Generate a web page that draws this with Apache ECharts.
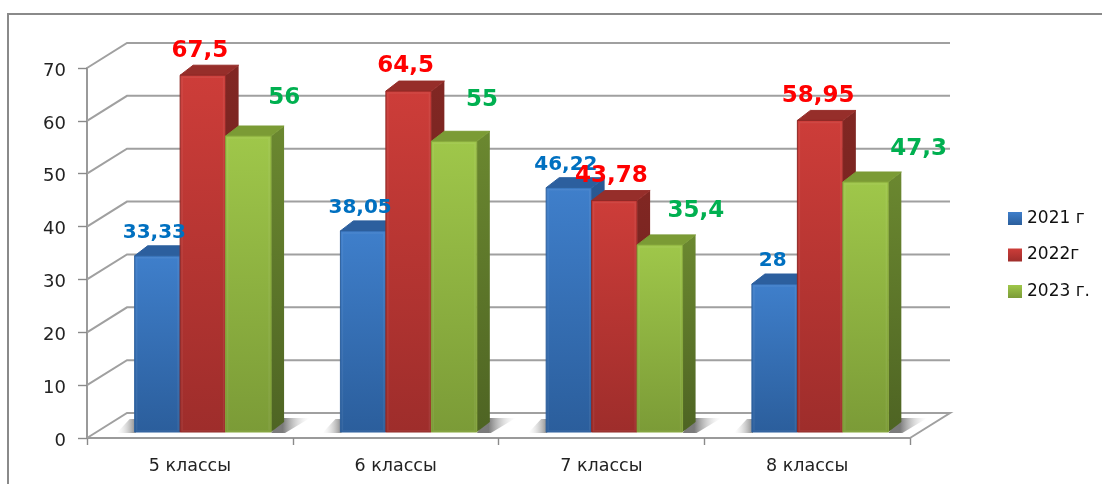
<!DOCTYPE html>
<html lang="ru" style="height: 100%">
<head>
  <meta charset="utf-8">
</head>
<body style="height: 100%; margin: 0; background: #fff">
  <div id="container" style="height: 100%"></div>
  <script type="text/javascript" src="https://fastly.jsdelivr.net/npm/echarts@6/dist/echarts.min.js"></script>
  <script type="text/javascript">
const categories = ['5 классы', '6 классы', '7 классы', '8 классы'];
const yTicks = [0, 10, 20, 30, 40, 50, 60, 70];
const years = ['2021 г', '2022г', '2023 г.'];
const values2021 = [33.33, 38.05, 46.22, 28];
const values2022 = [67.5, 64.5, 43.78, 58.95];
const values2023 = [56, 55, 35.4, 47.3];

// label shift from the bar top, the labels were dragged by hand in the original
const nudge2021 = [[-3, -23], [-3, -23], [-3, -23], [-2, -23]];
const nudge2022 = [[-3, -24], [-3, -25], [-3, -25], [-2, -24]];
const nudge2023 = [[36, -38], [28, -41], [36, -34], [53, -33]];

const fontName = '"DejaVu Sans", Verdana, sans-serif';
const depthX = 40, depthY = 25;        // floor depth of the 3d box
const barDX = 13, barDY = 6;           // bars stand a bit inside the floor
const sideX = 13, sideY = 10;          // side face of a bar
const barRatio = 0.221;

function grad(a, b) {
  return new echarts.graphic.LinearGradient(0, 0, 0, 1, [
    { offset: 0, color: a }, { offset: 1, color: b }
  ]);
}

const looks = [
  { front: grad('#3f7fcb', '#2b5e9c'), side: grad('#2a5a94', '#1f4472'), top: '#2c5f9e', edge: '#2d5f9c', text: '#0070c0', size: 20 },
  { front: grad('#cd3d39', '#9e2d2b'), side: grad('#812723', '#6a1f1c'), top: '#962e2a', edge: '#8e2825', text: '#ff0000', size: 23 },
  { front: grad('#9fc74a', '#7b9b37'), side: grad('#6b8830', '#4e6423'), top: '#7b9b35', edge: '#86a63c', text: '#00b050', size: 23 }
];

function barSeries(name, values, nudges, idx) {
  const look = looks[idx];
  return {
    type: 'custom',
    name: name,
    silent: true,
    clip: false,
    itemStyle: { color: look.front },
    encode: { x: 0, y: 1 },
    data: values.map(function (v, i) { return [i, v]; }),
    renderItem: function (params, api) {
      const i = api.value(0);
      const v = api.value(1);
      const p = api.coord([i, v]);
      const w = api.size([1, 0])[0] * barRatio;
      const x = p[0] + barDX + (idx - 1.5) * w;
      const top = p[1] - barDY;
      const base = api.coord([i, 0])[1] - barDY;
      const nudge = nudges[i];
      return {
        type: 'group',
        children: [
          {
            type: 'polygon',
            shape: { points: [[x + w, top], [x + w + sideX, top - sideY], [x + w + sideX, base - sideY], [x + w, base]] },
            style: { fill: look.side },
            z2: 10 + idx
          },
          {
            type: 'polygon',
            shape: { points: [[x, top], [x + sideX, top - sideY], [x + w + sideX, top - sideY], [x + w, top]] },
            style: { fill: look.top, stroke: look.top, lineWidth: 1, lineJoin: 'round' },
            z2: 10 + idx
          },
          {
            type: 'rect',
            shape: { x: x, y: top, width: w, height: base - top },
            style: { fill: look.front, stroke: look.edge, lineWidth: 1 },
            z2: 10 + idx
          },
          {
            type: 'rect',
            shape: { x: x + 2, y: top + 2, width: w - 4, height: base - top - 3 },
            style: { fill: null, stroke: 'rgba(255,255,255,0.06)', lineWidth: 1.5 },
            z2: 10 + idx
          },
          {
            type: 'text',
            x: x + w / 2 + nudge[0],
            y: top + nudge[1],
            style: {
              text: String(v).replace('.', ','),
              fill: look.text,
              fontFamily: fontName,
              fontWeight: 'bold',
              fontSize: look.size,
              align: 'center',
              verticalAlign: 'middle'
            },
            z2: 100 + idx
          }
        ]
      };
    }
  };
}

// back wall lines and floor outline
const wallSeries = {
  type: 'custom',
  silent: true,
  clip: false,
  encode: { x: 0, y: 1 },
  data: yTicks.map(function (t) { return [0, t]; }),
  renderItem: function (params, api) {
    const y = api.coord([0, api.value(1)])[1];
    const left = params.coordSys.x;
    const right = left + params.coordSys.width;
    const pts = [[left, y], [left + depthX, y - depthY], [right + depthX, y - depthY]];
    if (api.value(1) === 0) pts.push([right, y]);
    return {
      type: 'polyline',
      shape: { points: pts },
      style: { fill: null, stroke: '#a0a0a0', lineWidth: 2 },
      z2: 1
    };
  }
};

// soft shadow on the floor around each group of bars
const shadowSeries = {
  type: 'custom',
  silent: true,
  clip: false,
  encode: { x: 0, y: 1 },
  data: categories.map(function (c, i) { return [i, 0]; }),
  renderItem: function (params, api) {
    const p = api.coord([api.value(0), 0]);
    const w = api.size([1, 0])[0] * barRatio;
    const x0 = p[0] + barDX - 1.5 * w;
    const x1 = x0 + 3 * w;
    const base = p[1] - barDY;
    return {
      type: 'group',
      children: [
        {
          type: 'polygon',
          shape: { points: [[x0 - 18, base + 1], [x0 + 1, base + 1], [x0 + 1, base - 13], [x0 - 5, base - 13]] },
          style: {
            fill: new echarts.graphic.LinearGradient(1, 0, 0, 0, [
              { offset: 0, color: 'rgba(110,110,110,0.8)' }, { offset: 1, color: 'rgba(220,220,220,0)' }
            ])
          },
          z2: 2
        },
        {
          type: 'polygon',
          shape: { points: [[x1, base + 1], [x1 + 14, base + 1], [x1 + sideX + 26, base - 14], [x1 + sideX - 2, base - 14]] },
          style: {
            fill: new echarts.graphic.LinearGradient(0, 0, 1, 0, [
              { offset: 0.3, color: 'rgba(100,100,100,0.85)' }, { offset: 1, color: 'rgba(220,220,220,0)' }
            ])
          },
          z2: 2
        }
      ]
    };
  }
};

var myChart = echarts.init(document.getElementById('container'), null, { renderer: 'canvas' });

var option = {
  animation: false,
  backgroundColor: '#ffffff',
  grid: { left: 87, right: 192, top: 68, height: 370 },
  legend: {
    data: years,
    orient: 'vertical',
    left: 1003,
    top: 205,
    icon: 'rect',
    itemWidth: 14,
    itemHeight: 13,
    itemGap: 19.5,
    textStyle: { fontFamily: fontName, fontSize: 17, color: '#111' }
  },
  xAxis: {
    type: 'category',
    data: categories,
    axisLine: { lineStyle: { color: '#9a9a9a', width: 2 } },
    axisTick: { show: true, alignWithLabel: false, length: 7, lineStyle: { color: '#8a8a8a', width: 1.4 } },
    axisLabel: { fontFamily: fontName, fontSize: 17.5, color: '#222', margin: 19 }
  },
  yAxis: {
    type: 'value',
    min: 0,
    max: 70,
    interval: 10,
    splitLine: { show: false },
    axisLine: { show: true, lineStyle: { color: '#9a9a9a', width: 2 } },
    axisTick: { show: true, length: 9, lineStyle: { color: '#8a8a8a', width: 1.4 } },
    axisLabel: { fontFamily: fontName, fontSize: 18, color: '#222', margin: 21, verticalAlign: 'top', lineHeight: 6 }
  },
  graphic: [
    {
      type: 'polyline',
      silent: true,
      shape: { points: [[8, 484], [8, 14], [1102, 14]] },
      style: { fill: null, stroke: '#8a8a8a', lineWidth: 2 }
    }
  ],
  series: [
    wallSeries,
    shadowSeries,
    barSeries(years[0], values2021, nudge2021, 0),
    barSeries(years[1], values2022, nudge2022, 1),
    barSeries(years[2], values2023, nudge2023, 2)
  ]
};

myChart.setOption(option);
window.addEventListener('resize', myChart.resize);
  </script>
</body>
</html>
